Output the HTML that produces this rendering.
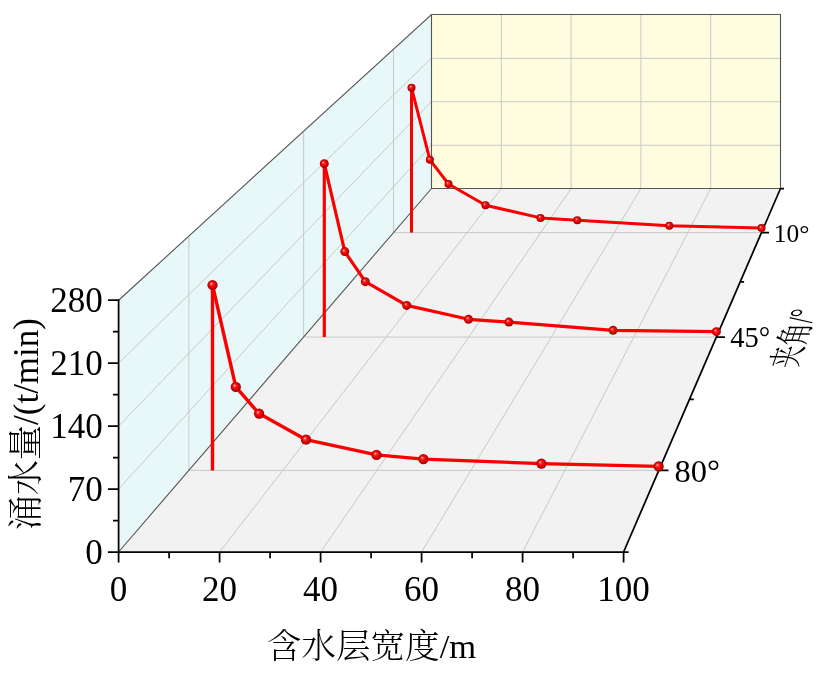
<!DOCTYPE html>
<html lang="zh"><head><meta charset="utf-8"><title>涌水量</title>
<style>html,body{margin:0;padding:0;background:#fff}body{width:827px;height:676px;overflow:hidden}svg{display:block}text{font-family:"Liberation Serif","Noto Serif CJK SC",serif;fill:#000}.cj{font-family:"Liberation Serif","Noto Serif CJK SC",serif;font-weight:300}</style></head><body>
<svg width="827" height="676" viewBox="0 0 827 676">
<defs><radialGradient id="sp" cx="0.5" cy="0.5" r="0.5" fx="0.36" fy="0.34"><stop offset="0" stop-color="#fff4f4"/><stop offset="0.1" stop-color="#ff9a9a"/><stop offset="0.28" stop-color="#fb2a2a"/><stop offset="0.55" stop-color="#ee0505"/><stop offset="0.82" stop-color="#c80000"/><stop offset="1" stop-color="#8a0000"/></radialGradient></defs>
<rect width="827" height="676" fill="#fff"/>
<polygon points="118.60,552.00 623.60,552.00 780.50,188.50 431.50,188.50" fill="#f2f2f2"/>
<polygon points="118.60,552.00 431.50,188.50 431.50,14.50 118.60,300.22" fill="#e8f7f7"/>
<polygon points="431.50,188.50 780.50,188.50 780.50,14.50 431.50,14.50" fill="#fefddf"/>
<path d="M219.60,552.00 L501.30,188.50 M501.30,188.50 L501.30,14.50 M320.60,552.00 L571.10,188.50 M571.10,188.50 L571.10,14.50 M421.60,552.00 L640.90,188.50 M640.90,188.50 L640.90,14.50 M522.60,552.00 L710.70,188.50 M710.70,188.50 L710.70,14.50 M393.50,232.64 L761.45,232.64 M393.50,232.64 L393.50,49.20 M303.63,337.05 L716.38,337.05 M303.63,337.05 L303.63,131.26 M188.83,470.41 L658.82,470.41 M188.83,470.41 L188.83,236.09 M118.60,489.06 L431.50,145.00 M431.50,145.25 L780.50,145.25 M118.60,426.11 L431.50,101.50 M431.50,101.75 L780.50,101.75 M118.60,363.17 L431.50,58.00 M431.50,58.35 L780.50,58.35" fill="none" stroke="#c9c9c9" stroke-width="1"/>
<path d="M118.60,300.22 L431.50,14.50 L780.50,14.50 L780.50,188.50 M431.50,14.50 L431.50,188.50 M431.50,188.50 L780.50,188.50 M118.60,552.00 L431.50,188.50" fill="none" stroke="#555" stroke-width="1.1" stroke-linejoin="miter"/>
<path d="M118.60,299.22 L118.60,553.00 M117.60,552.00 L624.60,552.00 M623.60,552.00 L780.50,188.50 M107.90,552.00 L118.60,552.00 M113.00,520.53 L118.60,520.53 M107.90,489.06 L118.60,489.06 M113.00,457.58 L118.60,457.58 M107.90,426.11 L118.60,426.11 M113.00,394.64 L118.60,394.64 M107.90,363.17 L118.60,363.17 M113.00,331.69 L118.60,331.69 M107.90,300.22 L118.60,300.22 M118.60,552.00 L118.60,562.60 M169.10,552.00 L169.10,558.30 M219.60,552.00 L219.60,562.60 M270.10,552.00 L270.10,558.30 M320.60,552.00 L320.60,562.60 M371.10,552.00 L371.10,558.30 M421.60,552.00 L421.60,562.60 M472.10,552.00 L472.10,558.30 M522.60,552.00 L522.60,562.60 M573.10,552.00 L573.10,558.30 M623.60,552.00 L623.60,562.60 M780.50,188.50 L784.00,188.50 M761.45,232.64 L769.04,232.64 M740.21,281.85 L744.11,281.85 M716.38,337.05 L724.90,337.05 M689.47,399.41 L693.87,399.41 M658.82,470.41 L668.51,470.41 M623.60,552.00 L628.67,552.00" fill="none" stroke="#000" stroke-width="1.75" stroke-linecap="butt"/>
<path d="M411.50,232.64 L411.50,87.70" stroke="#fa0000" stroke-width="3.00" fill="none"/>
<polyline points="411.50,87.70 429.90,159.80 448.50,184.00 485.50,205.20 540.50,217.90 577.30,220.20 669.30,225.70 761.50,228.10" fill="none" stroke="#fa0000" stroke-width="3.00" stroke-linejoin="round"/>
<circle cx="411.50" cy="87.70" r="4.01" fill="url(#sp)"/>
<circle cx="429.90" cy="159.80" r="4.01" fill="url(#sp)"/>
<circle cx="448.50" cy="184.00" r="4.01" fill="url(#sp)"/>
<circle cx="485.50" cy="205.20" r="4.01" fill="url(#sp)"/>
<circle cx="540.50" cy="217.90" r="4.01" fill="url(#sp)"/>
<circle cx="577.30" cy="220.20" r="4.01" fill="url(#sp)"/>
<circle cx="669.30" cy="225.70" r="4.01" fill="url(#sp)"/>
<circle cx="761.50" cy="228.10" r="4.01" fill="url(#sp)"/>
<path d="M324.30,337.05 L324.30,163.70" stroke="#fa0000" stroke-width="3.18" fill="none"/>
<polyline points="324.30,163.70 344.80,251.60 365.30,281.70 406.70,305.40 468.50,319.30 508.90,322.10 613.10,330.35 716.40,331.70" fill="none" stroke="#fa0000" stroke-width="3.18" stroke-linejoin="round"/>
<circle cx="324.30" cy="163.70" r="4.49" fill="url(#sp)"/>
<circle cx="344.80" cy="251.60" r="4.49" fill="url(#sp)"/>
<circle cx="365.30" cy="281.70" r="4.49" fill="url(#sp)"/>
<circle cx="406.70" cy="305.40" r="4.49" fill="url(#sp)"/>
<circle cx="468.50" cy="319.30" r="4.49" fill="url(#sp)"/>
<circle cx="508.90" cy="322.10" r="4.49" fill="url(#sp)"/>
<circle cx="613.10" cy="330.35" r="4.49" fill="url(#sp)"/>
<circle cx="716.40" cy="331.70" r="4.49" fill="url(#sp)"/>
<path d="M212.50,470.41 L212.50,285.00" stroke="#fa0000" stroke-width="3.40" fill="none"/>
<polyline points="212.50,285.00 235.80,386.90 259.10,413.60 306.00,439.70 376.50,454.90 423.40,459.10 541.40,463.60 658.60,466.40" fill="none" stroke="#fa0000" stroke-width="3.40" stroke-linejoin="round"/>
<circle cx="212.50" cy="285.00" r="5.12" fill="url(#sp)"/>
<circle cx="235.80" cy="386.90" r="5.12" fill="url(#sp)"/>
<circle cx="259.10" cy="413.60" r="5.12" fill="url(#sp)"/>
<circle cx="306.00" cy="439.70" r="5.12" fill="url(#sp)"/>
<circle cx="376.50" cy="454.90" r="5.12" fill="url(#sp)"/>
<circle cx="423.40" cy="459.10" r="5.12" fill="url(#sp)"/>
<circle cx="541.40" cy="463.60" r="5.12" fill="url(#sp)"/>
<circle cx="658.60" cy="466.40" r="5.12" fill="url(#sp)"/>
<text x="102.8" y="563.90" font-size="35" text-anchor="end">0</text>
<text x="102.8" y="500.96" font-size="35" text-anchor="end">70</text>
<text x="102.8" y="438.01" font-size="35" text-anchor="end">140</text>
<text x="102.8" y="375.07" font-size="35" text-anchor="end">210</text>
<text x="102.8" y="312.12" font-size="35" text-anchor="end">280</text>
<text x="118.60" y="600.6" font-size="35" text-anchor="middle">0</text>
<text x="219.60" y="600.6" font-size="35" text-anchor="middle">20</text>
<text x="320.60" y="600.6" font-size="35" text-anchor="middle">40</text>
<text x="421.60" y="600.6" font-size="35" text-anchor="middle">60</text>
<text x="522.60" y="600.6" font-size="35" text-anchor="middle">80</text>
<text x="623.60" y="600.6" font-size="35" text-anchor="middle">100</text>
<text x="773.78" y="241.50" font-size="25.41">10°</text>
<text x="730.22" y="346.98" font-size="28.50">45°</text>
<text x="674.57" y="481.73" font-size="32.45">80°</text>
<text class="cj" x="371.5" y="658" font-size="34.6" text-anchor="middle">含水层宽度/m</text>
<text class="cj" transform="translate(38,424) rotate(-90)" font-size="35" text-anchor="middle">涌水量/(t/min)</text>
<text class="cj" style="font-weight:400" transform="matrix(0.2790,-0.8103,1.3300,0.0000,806.60,338.00)" font-size="27.4" text-anchor="middle">夹角/°</text>
</svg></body></html>
